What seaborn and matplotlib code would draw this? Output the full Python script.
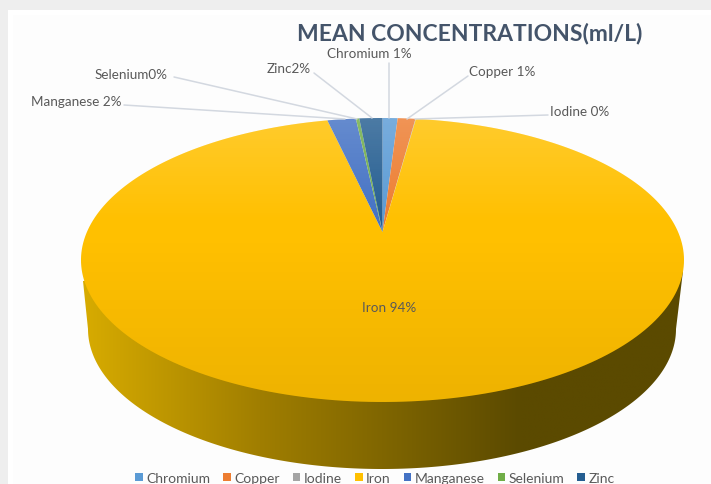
import numpy as np
import matplotlib
matplotlib.use("Agg")
import matplotlib.pyplot as plt
import seaborn as sns
from matplotlib.patches import Rectangle, Polygon
from matplotlib.path import Path
from matplotlib.transforms import Transform, Affine2D

# Data
elements = ["Chromium", "Copper", "Iodine", "Iron", "Manganese", "Selenium", "Zinc"]
shares = [0.98, 1.15, 0.03, 94.27, 1.85, 0.22, 1.50]
colors = ["#5B9BD5", "#ED7D31", "#A5A5A5", "#FFC000", "#4472C4", "#70AD47", "#255E91"]
label_formats = ["{} {}%", "{} {}%", "{} {}%", "{} {}%", "{} {}%", "{}{}%", "{}{}%"]
label_positions = [(369, 54), (502, 72), (580, 112), (389, 308), (76, 102), (131, 75), (289, 69)]
leader_lines = [
    [(389, 64), (389, 119)],
    [(468, 77), (407, 120)],
    [(548, 116), (415, 120)],
    None,
    [(124, 106), (345, 120)],
    [(174, 78), (357, 120)],
    [(314, 74), (372, 119)],
]

# Disc geometry, in pixels
TOP_CX, TOP_CY, TOP_RX, TOP_RY = 382.5, 261.0, 301.5, 142.0
APEX_Y = 233.0
LOW_CX, LOW_CY, LOW_RX, LOW_RY = 382.0, 330.0, 294.0, 140.0
TILT = (TOP_CY - APEX_Y) / TOP_RY


class DiscPerspective(Transform):
    """Projective map of the unit pie onto the tilted top face of the disc."""
    input_dims = 2
    output_dims = 2
    is_separable = False
    has_inverse = False

    def transform_non_affine(self, values):
        values = np.asarray(values, dtype=float)
        u, v = values[:, 0], values[:, 1]
        w = 1 + TILT * v
        x = TOP_CX + TOP_RX * u * np.sqrt(1 - TILT ** 2) / w
        y = TOP_CY - TOP_RY * (v + TILT) / w
        return np.column_stack([x, y])

    def transform_path_non_affine(self, path):
        # Flatten the arcs finely before bending them
        scaled = path.transformed(Affine2D().scale(2000))
        polys = scaled.to_polygons(closed_only=True)
        verts = np.vstack(polys) / 2000
        return Path(self.transform_non_affine(verts), closed=True)


def ellipse_points(cx, cy, rx, ry, start=0.0, stop=360.0, n=360):
    t = np.radians(np.linspace(start, stop, n))
    return np.column_stack([cx + rx * np.cos(t), cy + ry * np.sin(t)])


sns.set_theme(style="white")
plt.rcParams["font.family"] = ["Lato", "DejaVu Sans"]

fig = plt.figure(figsize=(7.11, 4.85), dpi=100, facecolor="#EEEEEE")
ax = fig.add_axes([0, 0, 1, 1])

wedges, _ = ax.pie(shares, colors=colors, startangle=90, counterclock=False, labels=None)
ax.set_aspect("auto")
ax.set_xlim(0, 711)
ax.set_ylim(485, 0)
ax.axis("off")

# Page card behind the chart
ax.add_patch(Rectangle((8, 11), 703, 474, fc="#FFFFFF", ec="none", zorder=0))
ax.add_patch(Rectangle((13, 16), 698, 469, fc="#FDFDFD", ec="none", zorder=0.1))

# Side wall of the disc with its left-to-right shading
side_outline = np.vstack([
    [(83, 282)],
    ellipse_points(LOW_CX, LOW_CY, LOW_RX, LOW_RY, 180, 0),
    [(683, 272), (382, 261)],
])
stops_x = [81, 260, 382, 520, 684]
stops_rgb = np.array([[216, 172, 0], [160, 126, 0], [128, 102, 0], [91, 74, 0], [91, 74, 0]]) / 255
grid_x = np.linspace(81, 684, 600)
side_rgb = np.stack([np.interp(grid_x, stops_x, stops_rgb[:, i]) for i in range(3)], axis=-1)[None, :, :]
side = ax.imshow(side_rgb, extent=(81, 684, 480, 250), aspect="auto", zorder=1, interpolation="bilinear")
side.set_clip_path(Polygon(side_outline, closed=True, transform=ax.transData))

# Top face: pie wedges bent into perspective
face_transform = DiscPerspective() + ax.transData
for wedge in wedges:
    wedge.set_transform(face_transform)
    wedge.set_zorder(2)
    wedge.set_edgecolor("none")

# Vertical sheen over the top face
rows = np.linspace(119, 403, 300)
sheen = np.zeros((300, 1, 4))
white_part = np.clip((225 - rows) / 106, 0, 1) * 0.18
black_part = np.clip((rows - 235) / 168, 0, 1) * 0.07
sheen[:, 0, :3] = (white_part > 0)[:, None].astype(float)
sheen[:, 0, 3] = white_part + black_part
overlay = ax.imshow(sheen, extent=(81, 684, 403, 119), aspect="auto", zorder=3, interpolation="bilinear")
overlay.set_clip_path(Polygon(ellipse_points(TOP_CX, TOP_CY, TOP_RX, TOP_RY), closed=True, transform=ax.transData))

ax.set_xlim(0, 711)
ax.set_ylim(485, 0)

# Leader lines and value labels
for name, share, fmt, pos, line in zip(elements, shares, label_formats, label_positions, leader_lines):
    if line is not None:
        xs, ys = zip(*line)
        ax.plot(xs, ys, color="#D3D8E0", lw=1.1, zorder=4, solid_capstyle="round")
    ax.text(pos[0], pos[1], fmt.format(name, round(share)), ha="center", va="center",
            fontsize=9.7, color="#595959", zorder=5)

ax.text(469.5, 33.5, "MEAN CONCENTRATIONS(ml/L)", ha="center", va="center",
        fontsize=16.5, fontweight="bold", color="#44546A", zorder=5)

ax.legend(wedges, elements, loc="center", bbox_to_anchor=(375 / 711, 1 - 479 / 485),
          ncol=7, frameon=False, fontsize=10, labelcolor="#595959",
          handlelength=0.55, handleheight=0.55, handletextpad=0.25, columnspacing=0.93,
          borderpad=0, borderaxespad=0)

fig.savefig("out.png", dpi=100, facecolor=fig.get_facecolor())
